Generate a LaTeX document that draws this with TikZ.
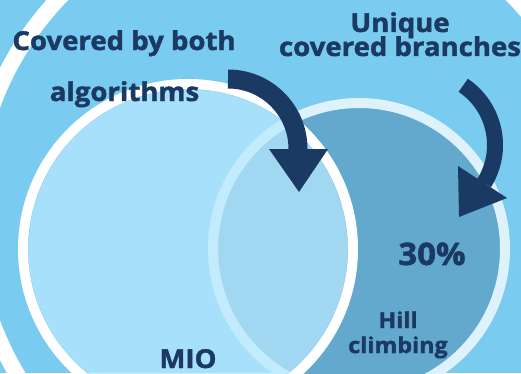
\documentclass[tikz,border=0pt]{standalone}
\usepackage{fontspec}
\setmainfont{Open Sans}[BoldFeatures={FakeBold=1.6,FakeStretch=1.06}]
\usetikzlibrary{calc}
\definecolor{bgblue}{HTML}{79CBEF}
\definecolor{navy}{HTML}{1B3A63}
\definecolor{hillfill}{HTML}{62A9CD}
\definecolor{hillring}{HTML}{DDF2FB}
\definecolor{miofill}{RGB}{185,233,255}
\definecolor{mioline}{HTML}{78C4E8}
\tikzset{
  lbl/.style={text=navy, font=\bfseries, inner sep=0pt, anchor=base},
  band/.style={draw=navy, line cap=butt},
  headtri/.style={fill=navy, draw=none}
}
\begin{document}
\begin{tikzpicture}[x=1pt,y=1pt]
\useasboundingbox (0,0) rectangle (521,373);
\clip (0,0) rectangle (521,373);
\fill[bgblue] (0,0) rectangle (521,373);
% big outer ring
\coordinate (bigc) at (287,159);
\draw[white, line width=16] (bigc) circle[radius=314];
% hill climbing circle
\coordinate (hillc) at (359,124);
\fill[hillfill] (hillc) circle[radius=146];
\draw[hillring, line width=10] (hillc) circle[radius=146];
% MIO circle
\coordinate (mioc) at (188,124);
\fill[miofill, fill opacity=0.73] (mioc) circle[radius=165];
\draw[mioline, line width=0.6] (mioc) circle[radius=160];
\draw[white, line width=10] (mioc) circle[radius=165];
% arrow 1
\coordinate (a1s) at (228,294);
\draw[band, line width=19] (a1s) arc[start angle=90, end angle=0, radius=70] coordinate (a1e);
\fill[headtri] (269,224) coordinate (h1a) -- (328,224) coordinate (h1b) -- (299,181) coordinate (h1t) -- cycle;
% arrow 2
\coordinate (a2c) at (423,228);
\coordinate (a2s) at ($(a2c)+(56:72)$);
\draw[band, line width=16] (a2s) arc[start angle=56, end angle=-32, radius=72] coordinate (a2e);
\fill[headtri] (458,207) coordinate (h2a) -- (507,175) coordinate (h2b) -- (459,156) coordinate (h2t) -- cycle;
% labels
\node[lbl, font=\bfseries\fontsize{26}{30}\selectfont] (cov1) at (124,323) {Covered by both};
\node[lbl, font=\bfseries\fontsize{26}{30}\selectfont] (cov2) at (124.5,272) {algorithms};
\node[lbl, font=\bfseries\fontsize{26}{30}\selectfont] (uni1) at (400,341) {Unique};
\node[lbl, font=\bfseries\fontsize{26}{30}\selectfont] (uni2) at (400,317) {covered branches};
\node[lbl, font=\bfseries\fontsize{31}{36}\selectfont] (pct) at (432,108) {30\%};
\node[lbl, font=\bfseries\fontsize{22}{26}\selectfont] (hill1) at (398,45) {Hill};
\node[lbl, font=\bfseries\fontsize{22}{26}\selectfont] (hill2) at (398,20) {climbing};
\node[lbl, font=\bfseries\fontsize{26}{30}\selectfont] (mio) at (188,5) {MIO};
\end{tikzpicture}
\end{document}
